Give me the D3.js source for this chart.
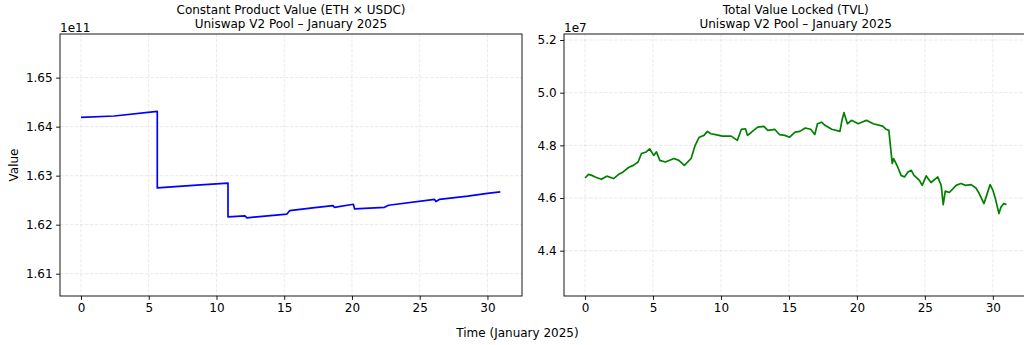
<!DOCTYPE html>
<html>
<head>
<meta charset="utf-8">
<script src="https://cdn.jsdelivr.net/npm/d3@7"></script>
<style>
  body { margin: 0; background: #fff; }
  svg { display: block; font-family: "DejaVu Sans", sans-serif; }
</style>
</head>
<body>
<div id="chart"></div>
<script>
// Constant product k = ETH reserve x USDC reserve, by day of January 2025
var cpDays = [0, 2.45, 5.63, 5.63, 8.55, 10.85, 10.85, 12.1, 12.25, 15.2, 15.4, 17.1, 18.6, 18.7,
  20.1, 20.2, 22.4, 22.7, 26.1, 26.2, 26.45, 28.55, 30.0, 30.95];
var cpValues = [1.64188e11, 1.64217e11, 1.64313e11, 1.62750e11, 1.62806e11, 1.62848e11, 1.62160e11,
  1.62181e11, 1.62140e11, 1.62217e11, 1.62285e11, 1.62342e11, 1.62390e11, 1.62354e11, 1.62417e11,
  1.62321e11, 1.62354e11, 1.62396e11, 1.62515e11, 1.62473e11, 1.62515e11, 1.62583e11, 1.62640e11,
  1.62670e11];

// Total value locked (USD), by day of January 2025
var tvlDays = [0, 0.25, 0.5, 0.74, 1.2, 1.6, 2.1, 2.45, 2.8, 3.2, 3.55, 3.9, 4.15, 4.5, 4.75, 5.05,
  5.25, 5.5, 5.9, 6.55, 6.9, 7.3, 7.8, 8.1, 8.4, 8.75, 9.0, 9.25, 9.6, 10.1, 10.75, 11.2, 11.5, 11.8,
  11.95, 12.2, 12.7, 13.15, 13.45, 13.95, 14.3, 14.7, 15.05, 15.45, 15.8, 16.2, 16.6, 16.9, 17.1,
  17.4, 17.65, 18.15, 18.75, 18.9, 19.05, 19.3, 19.6, 20.1, 20.35, 20.7, 21.2, 21.9, 22.15, 22.35,
  22.45, 22.6, 22.7, 23.0, 23.25, 23.5, 23.75, 24.0, 24.2, 24.6, 24.8, 25.1, 25.45, 25.95, 26.2,
  26.35, 26.5, 26.8, 27.3, 27.65, 28.0, 28.4, 28.75, 29.0, 29.35, 29.55, 29.8, 30.0, 30.2, 30.45,
  30.6, 30.8, 31.0];
var tvlValues = [4.676e7, 4.690e7, 4.686e7, 4.680e7, 4.671e7, 4.683e7, 4.674e7, 4.689e7, 4.699e7,
  4.716e7, 4.724e7, 4.737e7, 4.769e7, 4.775e7, 4.787e7, 4.762e7, 4.775e7, 4.743e7, 4.737e7, 4.750e7,
  4.743e7, 4.724e7, 4.750e7, 4.800e7, 4.831e7, 4.838e7, 4.853e7, 4.844e7, 4.841e7, 4.835e7, 4.835e7,
  4.819e7, 4.861e7, 4.863e7, 4.838e7, 4.848e7, 4.869e7, 4.872e7, 4.857e7, 4.861e7, 4.841e7, 4.838e7,
  4.831e7, 4.850e7, 4.853e7, 4.866e7, 4.861e7, 4.841e7, 4.882e7, 4.888e7, 4.876e7, 4.861e7, 4.853e7,
  4.895e7, 4.924e7, 4.882e7, 4.895e7, 4.882e7, 4.888e7, 4.895e7, 4.882e7, 4.873e7, 4.861e7, 4.857e7,
  4.806e7, 4.731e7, 4.750e7, 4.718e7, 4.686e7, 4.680e7, 4.699e7, 4.705e7, 4.686e7, 4.667e7, 4.648e7,
  4.684e7, 4.659e7, 4.680e7, 4.648e7, 4.575e7, 4.626e7, 4.621e7, 4.648e7, 4.655e7, 4.648e7, 4.651e7,
  4.638e7, 4.617e7, 4.579e7, 4.611e7, 4.651e7, 4.630e7, 4.595e7, 4.541e7, 4.566e7, 4.579e7, 4.575e7];

var dayTicks = [0, 5, 10, 15, 20, 25, 30];
var cpTicks = [1.61e11, 1.62e11, 1.63e11, 1.64e11, 1.65e11];
var tvlTicks = [4.4e7, 4.6e7, 4.8e7, 5.0e7, 5.2e7];

var W = 1024, H = 345;
var FS = "12px";
var svg = d3.select("#chart").append("svg")
  .attr("width", W).attr("height", H);

function drawPanel(cfg) {
  var x = d3.scaleLinear().domain([-1.55, 32.55]).range([cfg.left, cfg.right]);
  var y = d3.scaleLinear().domain(cfg.yDomain).range([296, 34]);
  var g = svg.append("g");

  // grid
  g.selectAll(".vgrid").data(dayTicks).enter().append("line")
    .attr("x1", function(d){ return x(d); }).attr("x2", function(d){ return x(d); })
    .attr("y1", 34).attr("y2", 296)
    .style("stroke", "#b0b0b0").style("stroke-opacity", 0.3)
    .style("stroke-width", 0.9).style("stroke-dasharray", "3.5,1.5");
  g.selectAll(".hgrid").data(cfg.yTicks).enter().append("line")
    .attr("x1", cfg.left).attr("x2", cfg.right)
    .attr("y1", function(d){ return y(d); }).attr("y2", function(d){ return y(d); })
    .style("stroke", "#b0b0b0").style("stroke-opacity", 0.3)
    .style("stroke-width", 0.9).style("stroke-dasharray", "3.5,1.5");

  // series line
  var pts = cfg.days.map(function(d, i){ return [d, cfg.values[i]]; });
  var line = d3.line()
    .x(function(d){ return x(d[0]); })
    .y(function(d){ return y(d[1]); });
  g.append("path").datum(pts)
    .attr("d", line)
    .style("fill", "none")
    .style("stroke", cfg.color)
    .style("stroke-width", 1.7)
    .style("stroke-linejoin", "round");

  // axes
  var xAxis = d3.axisBottom(x).tickValues(dayTicks).tickSize(3.9).tickPadding(3.5)
    .tickSizeOuter(0).tickFormat(d3.format("d"));
  var gx = g.append("g").attr("transform", "translate(0,296)").call(xAxis);
  var yAxis = d3.axisLeft(y).tickValues(cfg.yTicks).tickSize(3.9).tickPadding(3.5)
    .tickSizeOuter(0).tickFormat(cfg.fmt);
  var gy = g.append("g").attr("transform", "translate(" + cfg.left + ",0)").call(yAxis);
  [gx, gy].forEach(function(a){
    a.select(".domain").remove();
    a.selectAll("text").style("font-size", FS).style("fill", "#000")
      .style("font-family", "DejaVu Sans, sans-serif");
    a.selectAll("line").style("stroke", "#000").style("stroke-width", 0.9);
  });

  // spines
  g.append("rect")
    .attr("x", cfg.left).attr("y", 34)
    .attr("width", cfg.right - cfg.left).attr("height", 262)
    .style("fill", "none").style("stroke", "#000").style("stroke-width", 0.9);

  // offset text
  g.append("text").attr("x", cfg.left).attr("y", 31.5)
    .style("font-size", FS).text(cfg.offset);

  // title
  var cx = (cfg.left + cfg.right) / 2;
  var t = g.append("text").attr("text-anchor", "middle").style("font-size", FS);
  t.append("tspan").attr("x", cx).attr("y", 14).text(cfg.title1);
  t.append("tspan").attr("x", cx).attr("y", 27.5).text(cfg.title2);
}

drawPanel({
  left: 60, right: 522,
  yDomain: [1.60545e11, 1.6589e11],
  yTicks: cpTicks,
  fmt: function(d){ return (d / 1e11).toFixed(2); },
  offset: "1e11",
  days: cpDays, values: cpValues, color: "#0000ff",
  title1: "Constant Product Value (ETH \u00d7 USDC)",
  title2: "Uniswap V2 Pool \u2013 January 2025"
});

drawPanel({
  left: 564, right: 1027.5,
  yDomain: [4.228e7, 5.2228e7],
  yTicks: tvlTicks,
  fmt: function(d){ return (d / 1e7).toFixed(1); },
  offset: "1e7",
  days: tvlDays, values: tvlValues, color: "#008000",
  title1: "Total Value Locked (TVL)",
  title2: "Uniswap V2 Pool \u2013 January 2025"
});

// shared labels
svg.append("text")
  .attr("transform", "translate(17.5,165) rotate(-90)")
  .attr("text-anchor", "middle")
  .style("font-size", FS)
  .text("Value");

svg.append("text")
  .attr("x", 517.5).attr("y", 336.5)
  .attr("text-anchor", "middle")
  .style("font-size", FS)
  .text("Time (January 2025)");
</script>
</body>
</html>
